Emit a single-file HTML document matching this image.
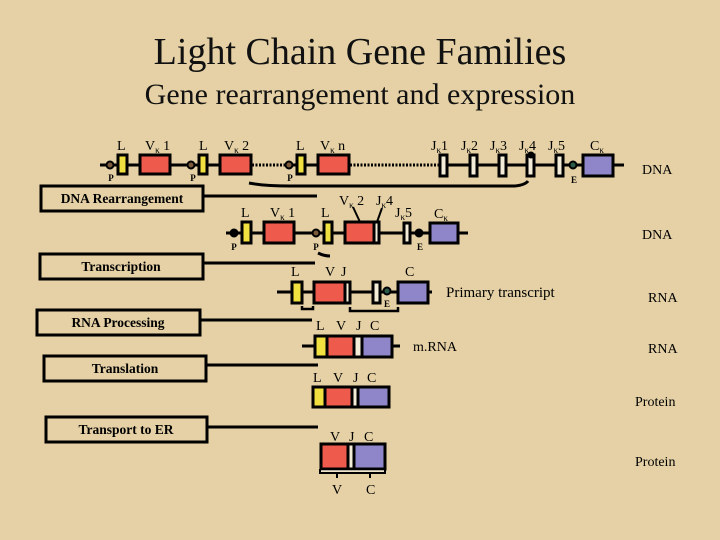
<!DOCTYPE html>
<html><head><meta charset="utf-8"><style>
html,body{margin:0;padding:0;background:#e5d1a5;}
svg{display:block;font-family:"Liberation Serif",serif;}
</style></head><body>
<svg width="720" height="540" viewBox="0 0 720 540" xmlns="http://www.w3.org/2000/svg">
<rect width="720" height="540" fill="#e5d1a5"/>
<text x="360" y="64" font-size="38" text-anchor="middle" fill="#111">Light Chain Gene Families</text>
<text x="360" y="104" font-size="30" text-anchor="middle" fill="#111">Gene rearrangement and expression</text>

<g stroke="#000" stroke-width="3" fill="none">
<line x1="100" y1="165" x2="252" y2="165"/>
<line x1="252" y1="165" x2="287" y2="165" stroke-dasharray="2,1.5"/>
<line x1="287" y1="165" x2="350" y2="165"/>
<line x1="350" y1="165" x2="438" y2="165" stroke-dasharray="2,1.5"/>
<line x1="438" y1="165" x2="624" y2="165"/>
<path d="M249 183 Q265 186 290 186 L515 186 Q525 185 528 181"/>
<line x1="226" y1="233" x2="468" y2="233"/>
<path d="M318 253 Q324 256 330 256"/>
<line x1="277" y1="292" x2="432" y2="292"/>
<path d="M302 306 v3 h11 v-3 M350 307 v4 h48 v-4" stroke-width="2.5"/>
<line x1="302" y1="346" x2="400" y2="346"/>
<line x1="203" y1="196" x2="317" y2="196"/>
<line x1="203" y1="263" x2="315" y2="263"/>
<line x1="200" y1="320" x2="312" y2="320"/>
<line x1="206" y1="365" x2="318" y2="365"/>
<line x1="207" y1="427" x2="318" y2="427"/>
<rect x="41" y="186" width="162" height="25"/>
<rect x="40" y="254" width="163" height="25"/>
<rect x="37" y="310" width="163" height="25"/>
<rect x="44" y="356" width="162" height="25"/>
<rect x="46" y="417" width="161" height="25"/>
<line x1="353" y1="207" x2="360" y2="222" stroke-width="2"/>
<line x1="382" y1="208" x2="377" y2="222" stroke-width="2"/>
</g>

<g stroke="#000" stroke-width="3">
<rect x="118" y="155" width="9" height="19" fill="#f0e040"/>
<rect x="140" y="155" width="30" height="19" fill="#ee5a4c"/>
<rect x="199" y="155" width="8" height="19" fill="#f0e040"/>
<rect x="220" y="155" width="31" height="19" fill="#ee5a4c"/>
<rect x="297" y="155" width="8" height="19" fill="#f0e040"/>
<rect x="318" y="155" width="31" height="19" fill="#ee5a4c"/>
<rect x="440" y="155" width="7" height="21" fill="#f3ecd8"/>
<rect x="470" y="155" width="7" height="21" fill="#f3ecd8"/>
<rect x="499" y="155" width="7" height="21" fill="#f3ecd8"/>
<rect x="527" y="155" width="7" height="21" fill="#f3ecd8"/>
<rect x="556" y="155" width="7" height="21" fill="#f3ecd8"/>
<rect x="583" y="155" width="30" height="21" fill="#8e86c8"/>
<rect x="242" y="222" width="9" height="21" fill="#f0e040"/>
<rect x="264" y="222" width="30" height="21" fill="#ee5a4c"/>
<rect x="324" y="222" width="8" height="21" fill="#f0e040"/>
<rect x="345" y="222" width="29" height="21" fill="#ee5a4c"/>
<rect x="374" y="222" width="5" height="21" fill="#f3ecd8"/>
<rect x="404" y="223" width="6" height="20" fill="#f3ecd8"/>
<rect x="430" y="223" width="28" height="20" fill="#8e86c8"/>
<rect x="292" y="282" width="10" height="21" fill="#f0e040"/>
<rect x="314" y="282" width="31" height="21" fill="#ee5a4c"/>
<rect x="345" y="282" width="5" height="21" fill="#f3ecd8"/>
<rect x="373" y="282" width="7" height="21" fill="#f3ecd8"/>
<rect x="398" y="282" width="30" height="21" fill="#8e86c8"/>
<rect x="315" y="336" width="77" height="21" fill="#8e86c8"/>
<rect x="315" y="336" width="12" height="21" fill="#f0e040"/>
<rect x="327" y="336" width="27" height="21" fill="#ee5a4c"/>
<rect x="354" y="336" width="8" height="21" fill="#f3ecd8"/>
<rect x="313" y="387" width="76" height="20" fill="#8e86c8"/>
<rect x="313" y="387" width="12" height="20" fill="#f0e040"/>
<rect x="325" y="387" width="27" height="20" fill="#ee5a4c"/>
<rect x="352" y="387" width="6" height="20" fill="#f3ecd8"/>
<rect x="321" y="444" width="64" height="25" fill="#8e86c8"/>
<rect x="321" y="444" width="27" height="25" fill="#ee5a4c"/>
<rect x="348" y="444" width="6" height="25" fill="#f3ecd8"/>
</g>
<path d="M320 469 v4 h65 v-4 M337 473 v5 M370 473 v5" stroke="#000" stroke-width="2" fill="none"/>
<line x1="321" y1="471" x2="384" y2="471" stroke="#f3ecd8" stroke-width="1.5"/>

<g stroke="#000" stroke-width="2" fill="#7a5a3a">
<circle cx="110" cy="165" r="3.5"/><circle cx="191" cy="165" r="3.5"/><circle cx="289" cy="165" r="3.5"/>
<circle cx="234" cy="233" r="3.5" fill="#000"/><circle cx="316" cy="233" r="3.5"/>
<circle cx="573" cy="165" r="3.5" fill="#2a5a4a"/><circle cx="419" cy="233" r="3.5" fill="#000"/>
<circle cx="387" cy="291" r="3.5" fill="#2a5a4a"/>
<circle cx="531" cy="155" r="2.5" fill="#000"/>
</g>

<g font-size="9" font-weight="bold" text-anchor="middle" fill="#000">
<text x="111" y="181">P</text><text x="193" y="181">P</text><text x="290" y="181">P</text>
<text x="574" y="183">E</text><text x="234" y="250">P</text><text x="316" y="250">P</text>
<text x="420" y="250">E</text><text x="387" y="307">E</text>
</g>

<g font-size="14" fill="#000">
<text x="117" y="150">L</text>
<text x="145" y="150">V<tspan font-size="9" dy="3">κ</tspan><tspan dy="-3"> 1</tspan></text>
<text x="199" y="150">L</text>
<text x="224" y="150">V<tspan font-size="9" dy="3">κ</tspan><tspan dy="-3"> 2</tspan></text>
<text x="296" y="150">L</text>
<text x="320" y="150">V<tspan font-size="9" dy="3">κ</tspan><tspan dy="-3"> n</tspan></text>
<text x="431" y="150">J<tspan font-size="9" dy="3">κ</tspan><tspan dy="-3">1</tspan></text>
<text x="461" y="150">J<tspan font-size="9" dy="3">κ</tspan><tspan dy="-3">2</tspan></text>
<text x="490" y="150">J<tspan font-size="9" dy="3">κ</tspan><tspan dy="-3">3</tspan></text>
<text x="519" y="150">J<tspan font-size="9" dy="3">κ</tspan><tspan dy="-3">4</tspan></text>
<text x="548" y="150">J<tspan font-size="9" dy="3">κ</tspan><tspan dy="-3">5</tspan></text>
<text x="590" y="150">C<tspan font-size="9" dy="3">κ</tspan></text>
<text x="642" y="174">DNA</text>

<text x="241" y="217">L</text>
<text x="270" y="217">V<tspan font-size="9" dy="3">κ</tspan><tspan dy="-3"> 1</tspan></text>
<text x="321" y="217">L</text>
<text x="339" y="205">V<tspan font-size="9" dy="3">κ</tspan><tspan dy="-3"> 2</tspan></text>
<text x="376" y="205">J<tspan font-size="9" dy="3">κ</tspan><tspan dy="-3">4</tspan></text>
<text x="395" y="217">J<tspan font-size="9" dy="3">κ</tspan><tspan dy="-3">5</tspan></text>
<text x="434" y="218">C<tspan font-size="9" dy="3">κ</tspan></text>
<text x="642" y="239">DNA</text>

<text x="291" y="276">L</text>
<text x="325" y="276">V</text><text x="341" y="276">J</text>
<text x="405" y="276">C</text>
<text x="446" y="297" font-size="15">Primary transcript</text>
<text x="648" y="302">RNA</text>

<text x="316" y="330">L</text><text x="336" y="330">V</text><text x="356" y="330">J</text><text x="370" y="330">C</text>
<text x="413" y="351">m.RNA</text>
<text x="648" y="353">RNA</text>

<text x="313" y="382">L</text><text x="333" y="382">V</text><text x="353" y="382">J</text><text x="367" y="382">C</text>
<text x="635" y="406">Protein</text>

<text x="330" y="441">V</text><text x="349" y="441">J</text><text x="364" y="441">C</text>
<text x="635" y="466">Protein</text>
<text x="332" y="494">V</text><text x="366" y="494">C</text>
</g>

<g font-size="13.5" font-weight="bold" text-anchor="middle" fill="#000">
<text x="122" y="203">DNA Rearrangement</text>
<text x="121" y="271">Transcription</text>
<text x="118" y="327">RNA Processing</text>
<text x="125" y="373">Translation</text>
<text x="126" y="434">Transport to ER</text>
</g>
</svg>
</body></html>
